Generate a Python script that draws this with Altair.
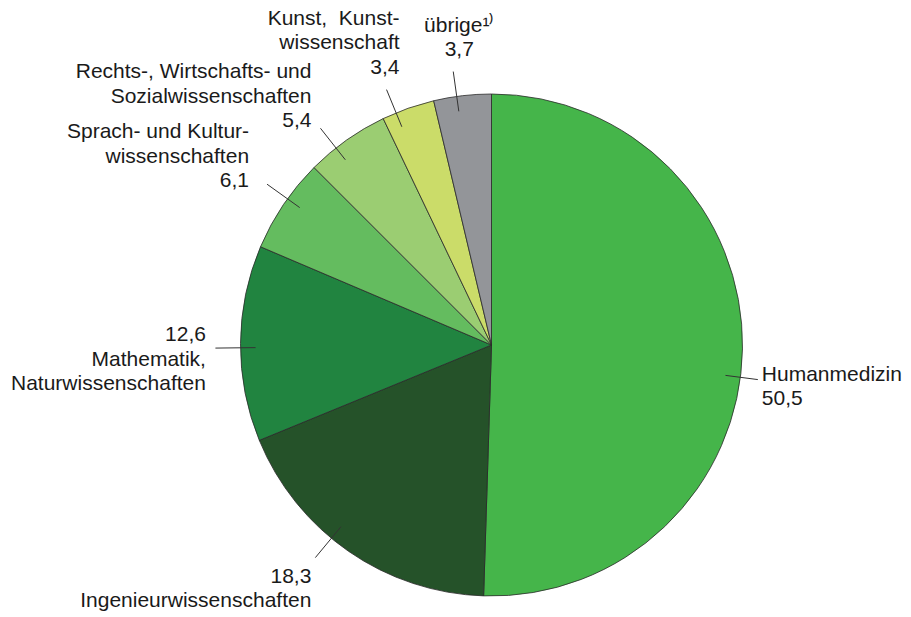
import math
import altair as alt
import pandas as pd

# ---- data ----
categories = [
    "Humanmedizin",
    "Ingenieurwissenschaften",
    "Mathematik, Naturwissenschaften",
    "Sprach- und Kulturwissenschaften",
    "Rechts-, Wirtschafts- und Sozialwissenschaften",
    "Kunst, Kunstwissenschaft",
    "übrige",
]
values = [50.5, 18.3, 12.6, 6.1, 5.4, 3.4, 3.7]
label_texts = [
    "Humanmedizin\n{v}",
    "{v}\nIngenieurwissenschaften",
    "{v}\nMathematik,\nNaturwissenschaften",
    "Sprach- und Kultur-\nwissenschaften\n{v}",
    "Rechts-, Wirtschafts- und\nSozialwissenschaften\n{v}",
    "Kunst, \u00a0Kunst-\nwissenschaft\n{v}",
    "übrige\u00b9\u207e\n{v}",
]
colors = ["#45b54a", "#255229", "#218440", "#64bc5f", "#9bcd72", "#cbdc69", "#939599"]

# ---- layout (styling only) ----
W, H = 895, 609
CX, CY, R = 483.5, 337, 251
R_IN = 0.94
r_out = [1.07, 1.10, 1.10, 1.10, 1.10, 1.10, 1.10]
nudge = [6.5, 4.9, -1.0, 1.6, -3.0, -2.9, -1.3]  # leader angle tweaks (deg)
lab_dx = [4, -4, -9.5, -18, -9, 13, 6]
lab_dy = [-16, 8, -24, -63, -67, -82, -57]
lab_align = ["left", "right", "right", "right", "right", "right", "center"]

total = sum(values)
rows = []
cum = 0.0
for i, (c, v) in enumerate(zip(categories, values)):
    mid = (cum + v / 2) / total * 360 + nudge[i]
    cum += v
    a = math.radians(mid)
    sx, sy = math.sin(a), -math.cos(a)
    x1, y1 = CX + R_IN * R * sx, CY + R_IN * R * sy
    x2, y2 = CX + r_out[i] * R * sx, CY + r_out[i] * R * sy
    rows.append({
        "idx": i, "cat": c, "val": v,
        "x1": x1, "y1": y1, "x2": x2, "y2": y2,
        "tx": x2 + lab_dx[i], "ty": y2 + lab_dy[i],
        "label": label_texts[i].format(v=f"{v:.1f}".replace(".", ",")),
        "align": lab_align[i],
    })
df = pd.DataFrame(rows)

xs = alt.Scale(domain=[0, W], range=[0, W])
ys = alt.Scale(domain=[0, H], range=[0, H])

pie = alt.Chart(df).mark_arc(
    radius=R, stroke="#2a2a2a", strokeWidth=0.8
).encode(
    theta=alt.Theta("val:Q", stack=True),
    order=alt.Order("idx:Q"),
    color=alt.Color("cat:N", scale=alt.Scale(domain=categories, range=colors), legend=None),
    x=alt.value(CX),
    y=alt.value(CY),
)

leaders = alt.Chart(df).mark_rule(color="#333333", strokeWidth=1).encode(
    x=alt.X("x1:Q", scale=xs, axis=None),
    y=alt.Y("y1:Q", scale=ys, axis=None),
    x2="x2:Q",
    y2="y2:Q",
)

text_layers = []
for al in ["left", "right", "center"]:
    text_layers.append(
        alt.Chart(df).transform_filter(alt.datum.align == al).mark_text(
            align=al, baseline="top", font="Liberation Sans", fontSize=21,
            lineBreak="\n", lineHeight=24.5, color="#1a1a1a"
        ).encode(
            x=alt.X("tx:Q", scale=xs, axis=None),
            y=alt.Y("ty:Q", scale=ys, axis=None),
            text="label:N",
        )
    )

chart = alt.layer(pie, leaders, *text_layers).properties(
    width=W, height=H, padding=0, autosize="none", background="white"
).configure_view(stroke=None)

chart.save("out.html", embed_options={"renderer": "svg", "actions": False})
